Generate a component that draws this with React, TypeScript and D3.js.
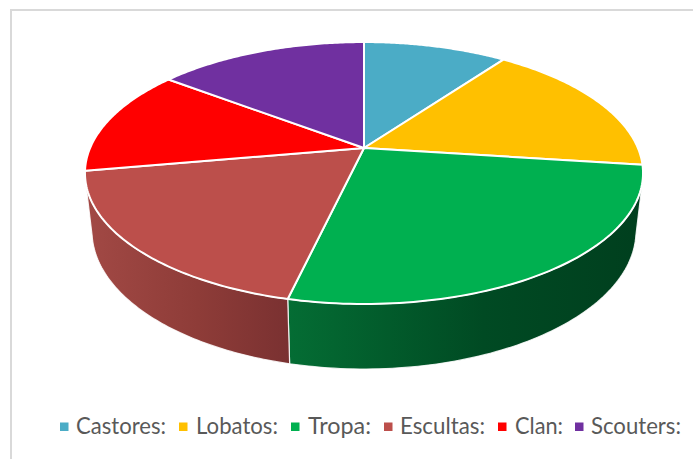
import React from "react";
import * as d3 from "d3";

const categories = ["Castores:", "Lobatos:", "Tropa:", "Escultas:", "Clan:", "Scouters:"];
const values = [10.0, 17.08, 26.56, 18.56, 13.14, 14.66];
const colors = ["#4BACC6", "#FFC000", "#00B050", "#BC4F4B", "#FF0000", "#7030A0"];
const legendSwatchX = [60, 179, 291, 384, 498, 575];
const legendTextX = [76, 196, 308, 400, 515, 591];
const legendTextW = [90, 82, 63, 85, 48, 90];

const W = 698, H = 459;
const k = 0.191;
const topCap = { cx: 364, cy: 148, A: 273.9, B: 126.2 };
const base = { cx: 364, cy: 204.6, A: 267, B: 133 };
type Proj = typeof topCap;

const project = (p: Proj, a: number): [number, number] => {
  const u = Math.sin(a), v = -Math.cos(a), w = 1 - k * v;
  return [p.cx + (p.A * u) / w, p.cy + (p.B * v) / w];
};
const rim = (p: Proj, a0: number, a1: number): [number, number][] =>
  d3.range(0, 81).map((i) => project(p, a0 + ((a1 - a0) * i) / 80));

const line = d3.line();
const arcs = d3.pie<number>().sort(null)(values);
const sideStart = (103 / 180) * Math.PI;
const sideEnd = (257 / 180) * Math.PI;

const sideStops: Record<number, [string, string][]> = {
  2: [["0%", "#046D34"], ["55%", "#004A23"], ["100%", "#003F1E"]],
  3: [["0%", "#A24945"], ["55%", "#8E3C38"], ["100%", "#7A3131"]],
};

export default function App() {
  return (
    <svg width={W} height={H} style={{ position: "absolute", left: 0, top: 0 }}>
      <defs>
        {[2, 3].map((i) => (
          <linearGradient key={i} id={`side${i}`} x1="0" x2="1" y1="0" y2="0">
            {sideStops[i].map((s) => (
              <stop key={s[0]} offset={s[0]} stopColor={s[1]} />
            ))}
          </linearGradient>
        ))}
      </defs>
      <rect width={W} height={H} fill="#fff" />
      <path d={`M11 ${H}V10H693`} fill="none" stroke="#d9d9d9" strokeWidth={2} />
      {arcs.map((d, i) => {
        const a0 = Math.max(d.startAngle, sideStart);
        const a1 = Math.min(d.endAngle, sideEnd);
        if (a1 <= a0) return null;
        const pts = [...rim(topCap, a0, a1), ...rim(base, a0, a1).reverse()];
        return (
          <path
            key={i}
            d={line(pts) + "Z"}
            fill={`url(#side${i})`}
            stroke="#fff"
            strokeWidth={1.2}
            strokeOpacity={0.85}
          />
        );
      })}
      {arcs.map((d, i) => (
        <path
          key={i}
          d={line([[topCap.cx, topCap.cy], ...rim(topCap, d.startAngle, d.endAngle)]) + "Z"}
          fill={colors[i]}
          stroke="#fff"
          strokeWidth={2}
          strokeLinejoin="round"
        />
      ))}
      {categories.map((c, i) => (
        <g key={c}>
          <rect x={legendSwatchX[i]} y={422.5} width={8.5} height={8.5} fill={colors[i]} />
          <text
            x={legendTextX[i]}
            y={434}
            fontFamily="Lato, 'Open Sans', sans-serif"
            fontSize={22.5}
            fill="#595959"
            textLength={legendTextW[i]}
            lengthAdjust="spacingAndGlyphs"
          >
            {c}
          </text>
        </g>
      ))}
    </svg>
  );
}
